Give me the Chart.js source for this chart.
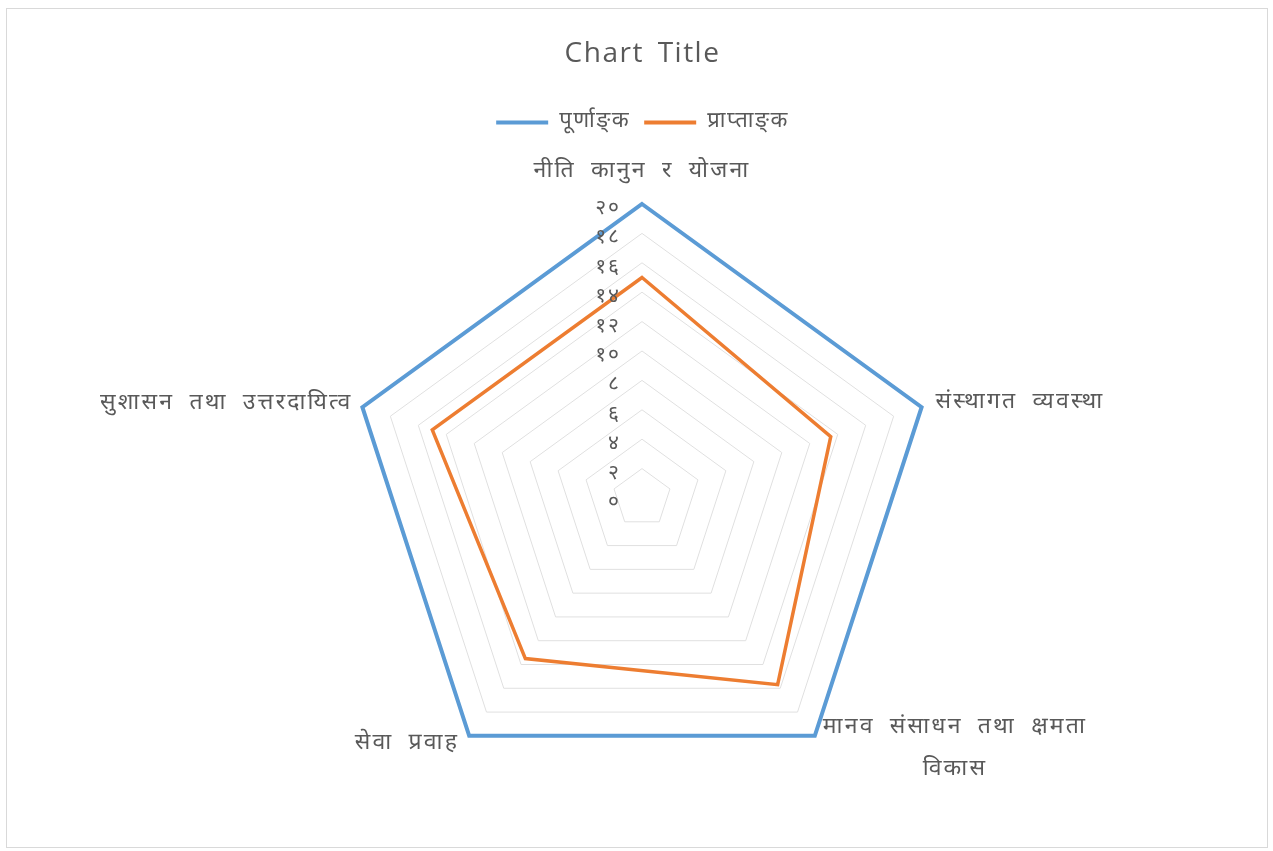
<!DOCTYPE html>
<html>
<head>
<meta charset="utf-8">
<script src="https://cdn.jsdelivr.net/npm/chart.js@4/dist/chart.umd.min.js"></script>
<style>
html,body{margin:0;padding:0;background:#fff;}
#box{position:absolute;left:6px;top:8px;width:1262px;height:840px;border:1px solid #d9d9d9;box-sizing:border-box;}
canvas{position:absolute;left:0;top:0;}
</style>
</head>
<body>
<div id="box"><canvas id="c" width="1260" height="844"></canvas></div>
<script>
const categories = [
  'नीति कानुन र योजना',
  'संस्थागत व्यवस्था',
  ['मानव संसाधन तथा क्षमता', 'विकास'],
  'सेवा प्रवाह',
  'सुशासन तथा उत्तरदायित्व'
];
const seriesNames = ['पूर्णाङ्‌क', 'प्राप्ताङ्‌क'];
const fullMarks = [20, 20, 20, 20, 20];
const obtainedMarks = [15, 13.5, 15.7, 13.5, 15];
const tickValues = [0, 2, 4, 6, 8, 10, 12, 14, 16, 18, 20];
const tickLabels = ['०', '२', '४', '६', '८', '१०', '१२', '१४', '१६', '१८', '२०'];

const FONT = "'Noto Sans Devanagari', 'Noto Sans', 'Open Sans', sans-serif";
const GREY = '#595959';

function setSpacing(ctx) { ctx.letterSpacing = '1.5px'; ctx.wordSpacing = '5px'; }

const spacingPlugin = {
  id: 'spacing',
  beforeInit(chart) { setSpacing(chart.ctx); },
  beforeUpdate(chart) { setSpacing(chart.ctx); },
  beforeDraw(chart) { setSpacing(chart.ctx); }
};

// per-category label placement relative to the axis end point: [align, dx, dy]
const labelPlacement = [
  ['center', 0, -31],
  ['left', 14, -3],
  ['left', 8, -7],
  ['right', -10, 9],
  ['right', -10, -2]
];

const labelsPlugin = {
  id: 'axisLabels',
  afterDatasetsDraw(chart) {
    const s = chart.scales.r;
    const ctx = chart.ctx;
    ctx.save();
    setSpacing(ctx);
    ctx.fillStyle = GREY;
    // tick labels
    ctx.font = '21px ' + FONT;
    ctx.letterSpacing = '2px';
    ctx.textAlign = 'right';
    ctx.textBaseline = 'middle';
    tickValues.forEach((v, i) => {
      const d = s.getDistanceFromCenterForValue(v);
      ctx.fillText(tickLabels[i], s.xCenter - 21, s.yCenter - d + 6);
    });
    // category labels
    ctx.font = '23px ' + FONT;
    ctx.letterSpacing = '2.2px';
    ctx.wordSpacing = '7px';
    categories.forEach((lab, i) => {
      const p = s.getPointPosition(i, s.drawingArea);
      const [align, dx, dy] = labelPlacement[i];
      const lines = Array.isArray(lab) ? lab : [lab];
      const x = p.x + dx, y = p.y + dy;
      ctx.textAlign = align;
      ctx.fillText(lines[0], x, y);
      if (lines.length > 1) {
        const w = ctx.measureText(lines[0]).width;
        const cx = align === 'left' ? x + w / 2 : align === 'right' ? x - w / 2 : x;
        ctx.textAlign = 'center';
        for (let k = 1; k < lines.length; k++) ctx.fillText(lines[k], cx, y + 42 * k);
      }
    });
    ctx.restore();
  }
};

new Chart(document.getElementById('c'), {
  type: 'radar',
  data: {
    labels: categories,
    datasets: [
      { label: seriesNames[0], data: fullMarks, borderColor: '#5B9BD5', backgroundColor: '#5B9BD5', borderWidth: 4, fill: false, pointRadius: 0, tension: 0 },
      { label: seriesNames[1], data: obtainedMarks, borderColor: '#ED7D31', backgroundColor: '#ED7D31', borderWidth: 3.5, fill: false, pointRadius: 0, tension: 0 }
    ]
  },
  options: {
    responsive: false,
    animation: false,
    layout: { padding: { top: 0, bottom: 0, left: 341, right: 330 } },
    plugins: {
      title: { display: true, text: 'Chart Title', color: GREY, font: { family: "'Open Sans', sans-serif", size: 28, weight: 'normal' }, padding: { top: 28, bottom: 27 } },
      legend: {
        position: 'top',
        labels: {
          color: GREY,
          font: { family: FONT, size: 22 },
          boxWidth: 52,
          boxHeight: 4,
          padding: 14,
          generateLabels(chart) {
            const items = Chart.defaults.plugins.legend.labels.generateLabels(chart);
            items.forEach(it => { it.lineWidth = 0; });
            return items;
          }
        }
      },
      tooltip: { enabled: false }
    },
    scales: {
      r: {
        min: 0, max: 20,
        ticks: { display: false, stepSize: 2 },
        grid: { color: '#e0e0e0', lineWidth: 1 },
        angleLines: { display: false },
        pointLabels: { display: false }
      }
    }
  },
  plugins: [spacingPlugin, labelsPlugin]
});
</script>
</body>
</html>
